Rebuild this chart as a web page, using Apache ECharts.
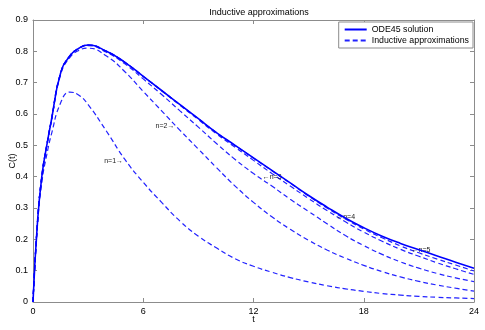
<!DOCTYPE html>
<html>
<head>
<meta charset="utf-8">
<script src="https://cdn.jsdelivr.net/npm/echarts@6/dist/echarts.min.js"></script>
<style>
  html, body { margin: 0; padding: 0; background: #fff; }
  #chart { width: 485px; height: 330px; }
</style>
</head>
<body>
<div id="chart"></div>
<script>
// time points (t) shared by every curve
const tVals = [0, 0.25, 0.5, 0.75, 1, 1.5, 2, 2.5, 3, 4, 5, 6, 7, 8, 9, 10, 11, 12, 13, 14, 15, 16, 17, 18, 19, 20, 21, 22, 23, 24];

// ODE45 solution
const ode45 = [0, 0.26, 0.41, 0.50, 0.58, 0.73, 0.785, 0.81, 0.82, 0.80, 0.765, 0.72, 0.675, 0.63, 0.585, 0.54, 0.50, 0.46, 0.42, 0.38, 0.34, 0.303, 0.268, 0.237, 0.21, 0.187, 0.167, 0.147, 0.127, 0.108];

// inductive approximations n=1..5
const approx1 = [0, 0.25, 0.39, 0.47, 0.535, 0.635, 0.67, 0.66, 0.63, 0.545, 0.455, 0.382, 0.318, 0.258, 0.21, 0.172, 0.138, 0.114, 0.095, 0.078, 0.064, 0.052, 0.042, 0.034, 0.027, 0.022, 0.018, 0.015, 0.013, 0.011];
const approx2 = [0, 0.26, 0.41, 0.50, 0.578, 0.725, 0.78, 0.803, 0.81, 0.785, 0.735, 0.672, 0.61, 0.548, 0.488, 0.428, 0.37, 0.318, 0.272, 0.232, 0.197, 0.166, 0.14, 0.117, 0.097, 0.08, 0.066, 0.054, 0.044, 0.035];
const approx3 = [0, 0.26, 0.41, 0.50, 0.58, 0.73, 0.785, 0.81, 0.818, 0.797, 0.76, 0.712, 0.662, 0.61, 0.558, 0.505, 0.455, 0.41, 0.37, 0.328, 0.289, 0.25, 0.212, 0.18, 0.152, 0.128, 0.108, 0.091, 0.077, 0.065];
const approx4 = [0, 0.26, 0.41, 0.50, 0.58, 0.73, 0.785, 0.81, 0.82, 0.80, 0.765, 0.72, 0.674, 0.628, 0.582, 0.536, 0.494, 0.452, 0.41, 0.37, 0.33, 0.292, 0.256, 0.223, 0.194, 0.168, 0.146, 0.125, 0.106, 0.088];
const approx5 = [0, 0.26, 0.41, 0.50, 0.58, 0.73, 0.785, 0.81, 0.82, 0.80, 0.765, 0.72, 0.675, 0.63, 0.585, 0.54, 0.499, 0.459, 0.419, 0.379, 0.338, 0.3, 0.265, 0.233, 0.205, 0.179, 0.157, 0.137, 0.118, 0.099];

// "n=k" annotations
const noteText = ['n=1\u2192', 'n=2\u2192', '\u2190n=3', '\u2190n=4', '\u2190n=5'];
const noteT = [4.9, 7.7, 12.5, 16.5, 20.6];
const noteC = [0.45, 0.56, 0.40, 0.272, 0.166];

const FONT = 'Liberation Sans, Arial, sans-serif';
const BLUE = '#0000ff';
const GRAY = '#8c8c8c';

function pairs(vals) {
  return tVals.map((t, i) => [t, vals[i]]);
}

const approxList = [approx1, approx2, approx3, approx4, approx5];

let series = [{
  name: 'ODE45 solution',
  type: 'line',
  data: pairs(ode45),
  smooth: true,
  symbol: 'none',
  showSymbol: false,
  color: BLUE,
  lineStyle: { width: 1.6, color: BLUE },
  z: 5
}];

approxList.forEach((vals, i) => {
  const onLeft = noteText[i].indexOf('\u2192') >= 0;
  series.push({
    name: 'Inductive approximations',
    type: 'line',
    data: pairs(vals),
    smooth: true,
    symbol: 'none',
    showSymbol: false,
    color: BLUE,
    lineStyle: { width: 1.2, color: '#2222ff', type: [5, 3] },
    markPoint: {
      symbol: 'circle',
      symbolSize: 0,
      silent: true,
      data: [{ coord: [noteT[i], noteC[i]] }],
      label: {
        show: true,
        formatter: noteText[i],
        position: onLeft ? 'left' : 'right',
        distance: 0,
        fontSize: 7,
        fontFamily: FONT,
        color: '#222'
      }
    }
  });
});

const chart = echarts.init(document.getElementById('chart'), null, { renderer: 'canvas' });

chart.setOption({
  animation: false,
  backgroundColor: '#fff',
  title: {
    text: 'Inductive approximations',
    left: 254,
    textAlign: 'center',
    top: 3,
    textStyle: { fontSize: 9, fontWeight: 'normal', fontFamily: FONT, color: '#000' }
  },
  legend: {
    data: ['ODE45 solution', 'Inductive approximations'],
    orient: 'vertical',
    right: 12,
    top: 22,
    itemWidth: 22,
    itemHeight: 6,
    itemGap: 2,
    padding: [3, 4, 3, 5],
    backgroundColor: '#fff',
    borderColor: GRAY,
    borderWidth: 1,
    borderRadius: 0,
    itemStyle: { color: 'transparent', borderWidth: 0 },
    textStyle: { fontSize: 8.8, fontFamily: FONT, color: '#000' }
  },
  grid: { left: 33, right: 11, top: 20, bottom: 28, outerBoundsMode: 'none', containLabel: false },
  xAxis: [{
    type: 'value',
    min: 0, max: 24, interval: 6,
    name: 't',
    nameLocation: 'middle',
    nameGap: 13,
    nameMoveOverlap: false,
    nameTextStyle: { fontSize: 9, fontFamily: FONT, color: '#000' },
    axisLine: { onZero: false, lineStyle: { color: GRAY } },
    axisTick: { inside: true, length: 4, lineStyle: { color: GRAY } },
    axisLabel: { fontSize: 9, fontFamily: FONT, color: '#000', margin: 5 },
    splitLine: { show: false }
  }, {
    type: 'value',
    position: 'top',
    min: 0, max: 24, interval: 6,
    axisLine: { onZero: false, lineStyle: { color: GRAY } },
    axisTick: { inside: true, length: 4, lineStyle: { color: GRAY } },
    axisLabel: { show: false },
    splitLine: { show: false }
  }],
  yAxis: [{
    type: 'value',
    min: 0, max: 0.9, interval: 0.1,
    name: 'C(t)',
    nameLocation: 'middle',
    nameGap: 16,
    nameMoveOverlap: false,
    nameTextStyle: { fontSize: 9, fontFamily: FONT, color: '#000' },
    axisLine: { show: true, onZero: false, lineStyle: { color: GRAY } },
    axisTick: { show: true, inside: true, length: 4, lineStyle: { color: GRAY } },
    axisLabel: { fontSize: 9, fontFamily: FONT, color: '#000', margin: 5 },
    splitLine: { show: false }
  }, {
    type: 'value',
    position: 'right',
    min: 0, max: 0.9, interval: 0.1,
    axisLine: { show: true, onZero: false, lineStyle: { color: GRAY } },
    axisTick: { show: true, inside: true, length: 4, lineStyle: { color: GRAY } },
    axisLabel: { show: false },
    splitLine: { show: false }
  }],
  series: series
});
</script>
</body>
</html>
